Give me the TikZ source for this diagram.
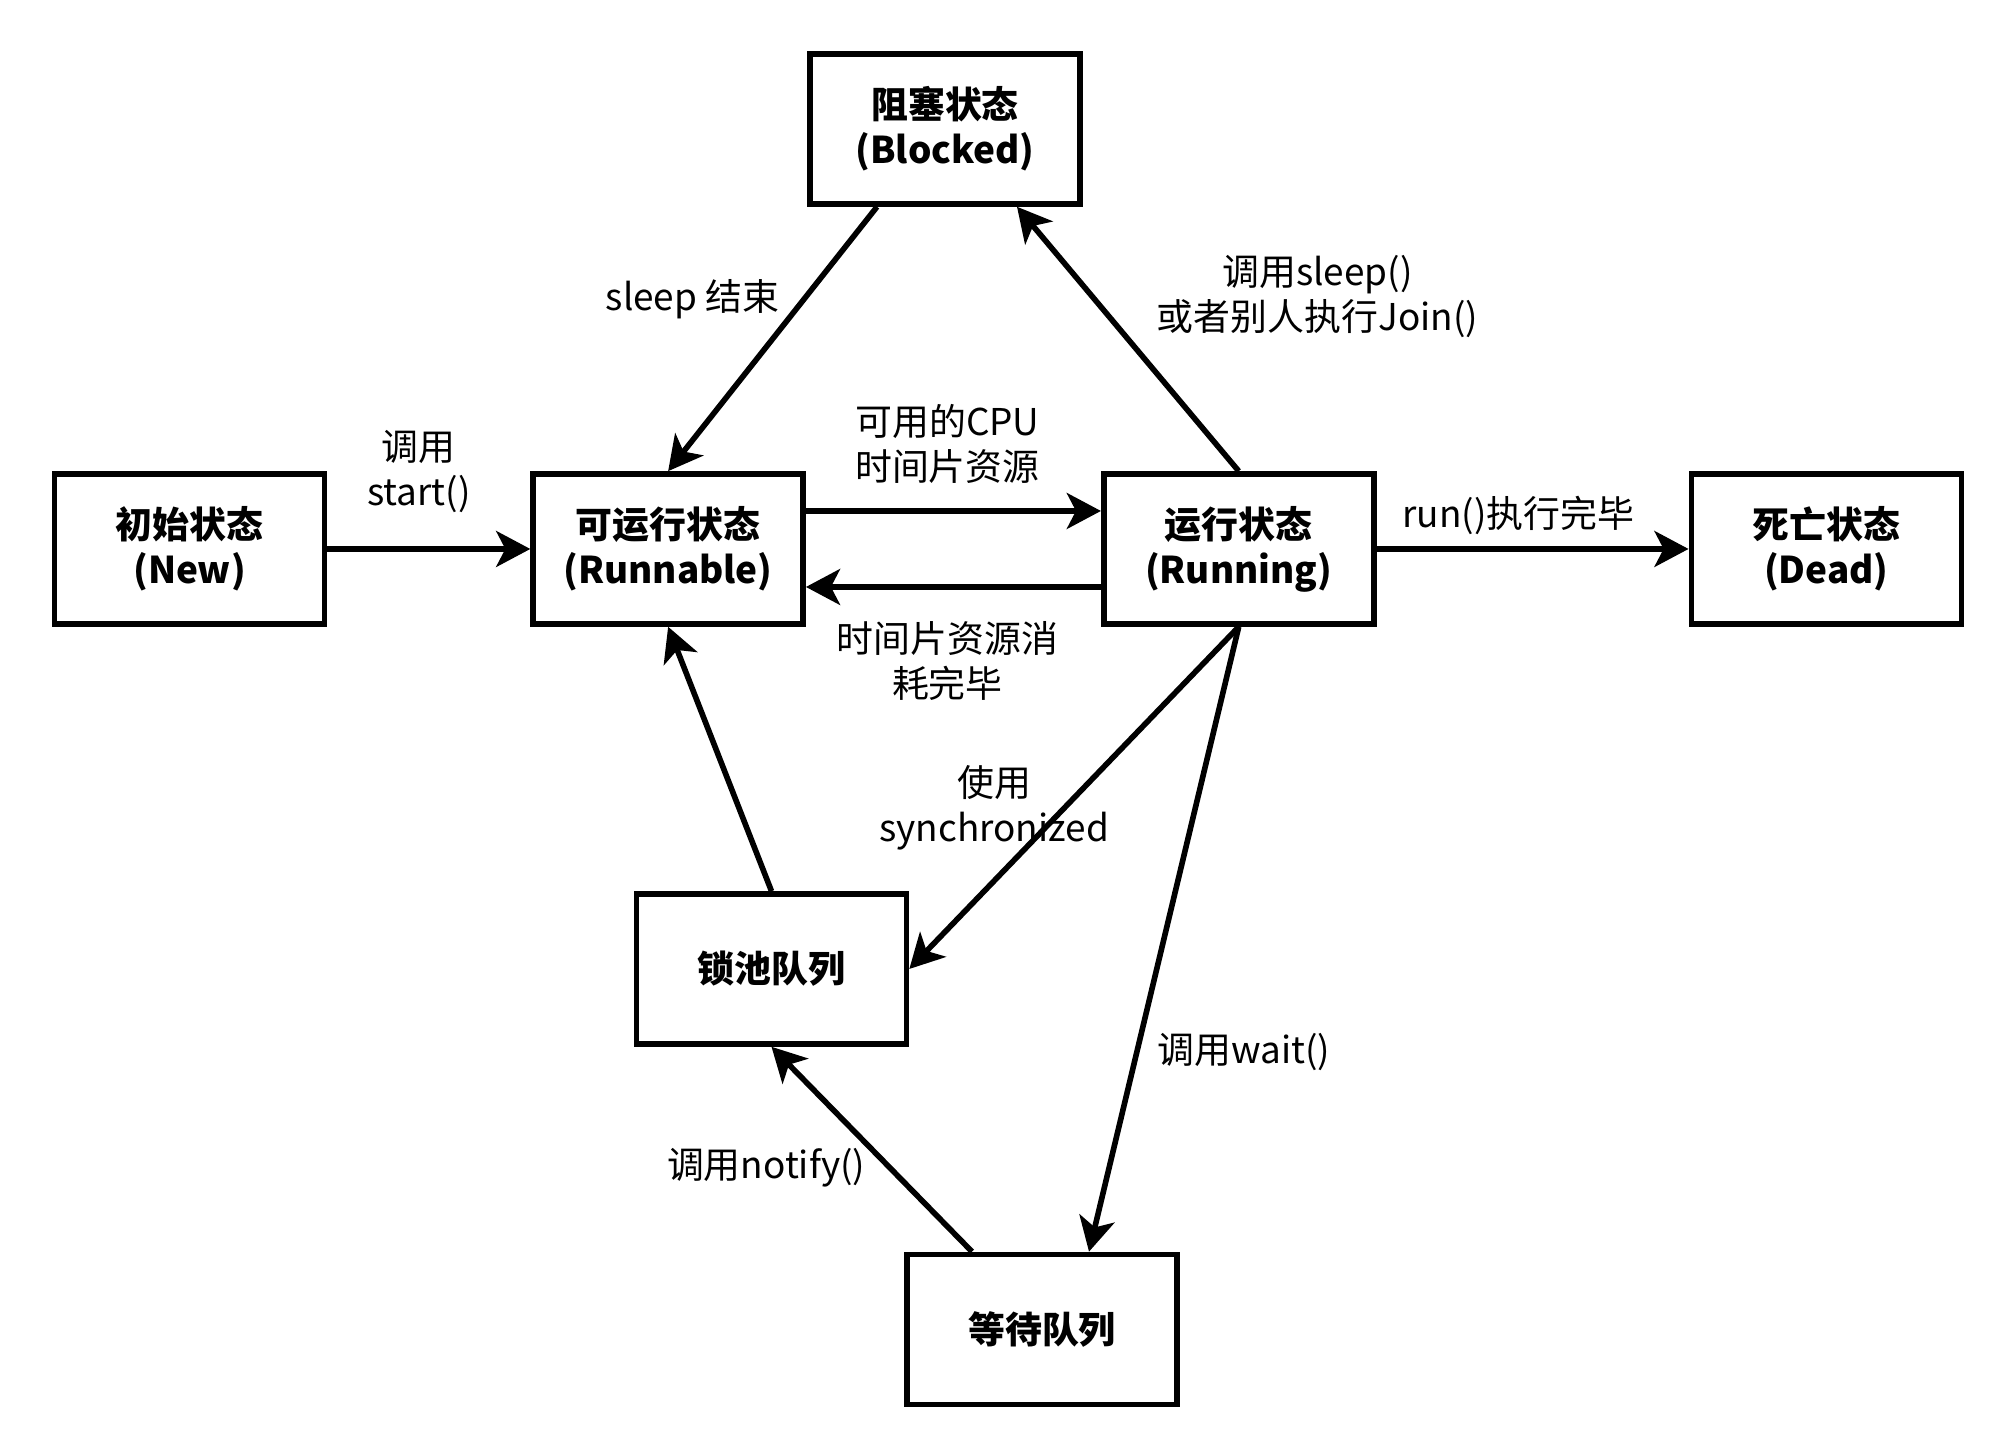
\documentclass[tikz,border=0pt]{standalone}
\usepackage{fontspec}
\setmainfont{Noto Sans CJK SC}
\usetikzlibrary{arrows.meta, positioning, calc}

\tikzset{
  state/.style={draw, line width=1.6pt, minimum width=2.7cm, minimum height=1.5cm, align=center, font=\fontsize{10.5}{12.8}\selectfont\bfseries},
  trans/.style={-{Stealth[length=9.7pt, width=10.2pt, inset=2.6pt]}, line width=1.6pt},
  lbl/.style={align=center, font=\fontsize{10.5}{12.8}\selectfont}
}

\begin{document}
\begin{tikzpicture}
  \useasboundingbox (0,0) rectangle (20.14,14.56);

  % --- 状态 ---
  \node[state] (new) at (1.895,9.07) {初始状态\\(New)};
  \node[state, right=2.03cm of new] (runnable) {可运行状态\\(Runnable)};
  \node[state, right=2.95cm of runnable] (running) {运行状态\\(Running)};
  \node[state, right=3.12cm of running] (dead) {死亡状态\\(Dead)};
  \node[state] (blocked) at (9.45,13.27) {阻塞状态\\(Blocked)};
  \node[state] (lockpool) at (7.715,4.87) {锁池队列};
  \node[state] (waitqueue) at (10.42,1.265) {等待队列};

  % --- 转换 ---
  \draw[trans] (new.east) -- (runnable.west)
    node[lbl, midway, above=0.22cm, xshift=-0.1cm] (lstart) {调用\\start()};
  \draw[trans] ($(runnable.east)+(0,0.38)$) -- ($(running.west)+(0,0.38)$)
    node[lbl, midway, above=0.13cm, xshift=-0.06cm] (lcpu) {可用的CPU\\时间片资源};
  \draw[trans] ($(running.west)+(0,-0.38)$) -- ($(runnable.east)+(0,-0.38)$)
    node[lbl, midway, below=0.2cm, xshift=-0.06cm] (lslice) {时间片资源消\\耗完毕};
  \draw[trans] (running.east) -- (dead.west)
    node[lbl, midway, above=0pt, xshift=-0.14cm] (lrun) {run()执行完毕};

  % 阻塞
  \draw[trans] ($(blocked.south)+(-0.68,0)$) -- (runnable.north)
    node[lbl, pos=0.35, left=0.1cm] (lsleepend) {sleep 结束};
  \draw[trans] (running.north) -- ($(blocked.south)+(0.72,0)$)
    node[lbl, pos=0.66, right=0.5cm] (lsleep) {调用sleep()\\或者别人执行Join()};

  % 锁池 / 等待
  \draw[trans] (lockpool.north) -- (runnable.south);
  \draw[trans] (running.south) -- (lockpool.east)
    node[lbl, pos=0.53, xshift=-0.7cm] (lsync) {使用\\synchronized};
  \draw[trans] (running.south) -- ($(waitqueue.north)+(0.47,0)$)
    node[lbl, pos=0.68, right=0.06cm] (lwait) {调用wait()};
  \draw[trans] ($(waitqueue.north)+(-0.70,0)$) -- (lockpool.south)
    node[lbl, pos=0.41, left=0.1cm] (lnotify) {调用notify()};
\end{tikzpicture}
\end{document}
